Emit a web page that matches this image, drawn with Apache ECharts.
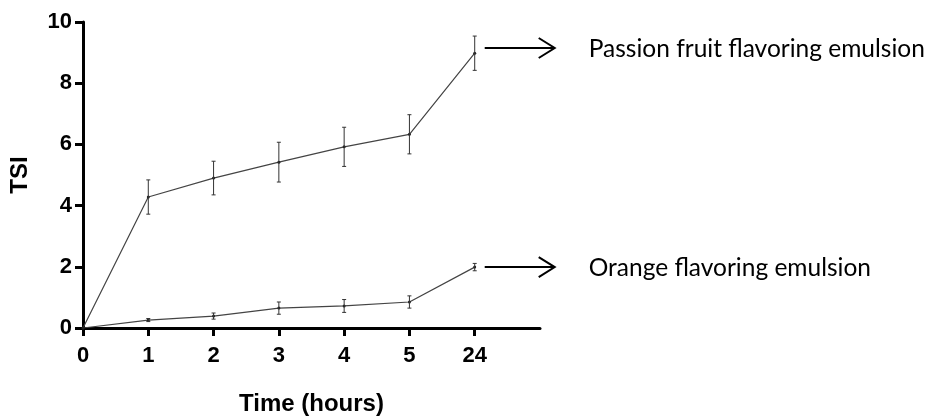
<!DOCTYPE html>
<html>
<head>
<meta charset="utf-8">
<script src="https://cdn.jsdelivr.net/npm/echarts@6/dist/echarts.min.js"></script>
<style>html,body{margin:0;padding:0;background:#fff;}#chart{width:928px;height:416px;}</style>
</head>
<body>
<div id="chart"></div>
<script>
const categories = ['0', '1', '2', '3', '4', '5', '24'];
const passionValues = [0, 4.28, 4.9, 5.42, 5.92, 6.33, 8.98];
const passionErrors = [0, 0.56, 0.55, 0.65, 0.64, 0.64, 0.56];
const orangeValues = [0, 0.26, 0.39, 0.65, 0.72, 0.85, 1.99];
const orangeErrors = [0, 0.05, 0.1, 0.2, 0.21, 0.2, 0.12];
const yTicks = [0, 2, 4, 6, 8, 10];
const annotationLabels = ['Passion fruit flavoring emulsion', 'Orange flavoring emulsion'];
const annotationY = [9.15, 1.99];

const axisFont = '"Liberation Sans", Arial, sans-serif';
const n = categories.length;
const xData = categories.concat(['']);

function errData(vals, errs) {
  return vals.map((v, i) => [i, v, errs[i]]);
}

function errorRender(params, api) {
  const x = api.value(0), v = api.value(1), e = api.value(2);
  if (!e) return null;
  const top = api.coord([x, v + e]);
  const bot = api.coord([x, v - e]);
  const cw = 2;
  const style = { stroke: '#333', lineWidth: 1 };
  return {
    type: 'group',
    children: [
      { type: 'line', shape: { x1: top[0], y1: top[1], x2: bot[0], y2: bot[1] }, style },
      { type: 'line', shape: { x1: top[0] - cw, y1: top[1], x2: top[0] + cw, y2: top[1] }, style },
      { type: 'line', shape: { x1: bot[0] - cw, y1: bot[1], x2: bot[0] + cw, y2: bot[1] }, style }
    ]
  };
}

function annotRender(params, api) {
  const p = api.coord([api.value(0), api.value(1)]);
  const x0 = p[0] + 10, x1 = p[0] + 80, y = p[1];
  const st = { stroke: '#000', lineWidth: 2, fill: null };
  return {
    type: 'group',
    children: [
      { type: 'line', shape: { x1: x0, y1: y, x2: x1, y2: y }, style: st },
      { type: 'polyline', shape: { points: [[x1 - 16, y - 10], [x1, y], [x1 - 16, y + 10]] }, style: st },
      { type: 'text', style: { x: p[0] + 114, y: y + 1, text: annotationLabels[params.dataIndex], fill: '#000',
        font: '24.5px Lato, "Noto Sans", sans-serif', verticalAlign: 'middle', align: 'left' } }
    ]
  };
}

const chart = echarts.init(document.getElementById('chart'));
chart.setOption({
  animation: false,
  backgroundColor: '#fff',
  grid: { left: 83, right: 388, top: 22, bottom: 88, containLabel: false, outerBoundsMode: 'none' },
  xAxis: {
    type: 'category',
    data: xData,
    boundaryGap: false,
    name: 'Time (hours)',
    nameLocation: 'middle',
    nameGap: 64,
    nameTextStyle: { fontFamily: axisFont, fontWeight: 'bold', fontSize: 24, color: '#000' },
    axisLine: { lineStyle: { color: '#000', width: 3 } },
    axisTick: { length: 8, lineStyle: { color: '#000', width: 3 }, interval: (i) => i < n },
    axisLabel: { interval: (i) => i < n, margin: 17, fontFamily: axisFont, fontWeight: 'bold', fontSize: 22, color: '#000' },
    splitLine: { show: false }
  },
  yAxis: {
    type: 'value',
    min: yTicks[0],
    max: yTicks[yTicks.length - 1],
    interval: yTicks[1] - yTicks[0],
    name: 'TSI',
    nameLocation: 'middle',
    nameGap: 51,
    nameTextStyle: { fontFamily: axisFont, fontWeight: 'bold', fontSize: 24, color: '#000' },
    axisLine: { show: true, lineStyle: { color: '#000', width: 3 } },
    axisTick: { show: true, length: 8, lineStyle: { color: '#000', width: 3 } },
    axisLabel: { margin: 11, fontFamily: axisFont, fontWeight: 'bold', fontSize: 22, color: '#000' },
    splitLine: { show: false }
  },
  series: [
    { type: 'line', data: passionValues, symbol: 'circle', symbolSize: 3, itemStyle: { color: '#222' }, lineStyle: { color: '#444', width: 1.2 }, z: 3 },
    { type: 'line', data: orangeValues, symbol: 'circle', symbolSize: 3, itemStyle: { color: '#222' }, lineStyle: { color: '#444', width: 1.2 }, z: 3 },
    { type: 'custom', renderItem: errorRender, data: errData(passionValues, passionErrors), z: 4, clip: false },
    { type: 'custom', renderItem: errorRender, data: errData(orangeValues, orangeErrors), z: 4, clip: false },
    { type: 'custom', renderItem: annotRender, data: annotationY.map((v) => [n - 1, v]), z: 5, clip: false }
  ]
});
</script>
</body>
</html>
